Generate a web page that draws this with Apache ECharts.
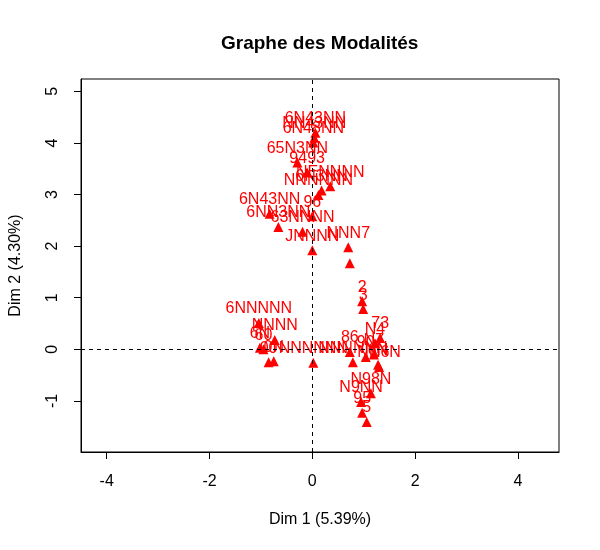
<!DOCTYPE html>
<html>
<head>
<meta charset="utf-8">
<script src="https://cdn.jsdelivr.net/npm/echarts@6/dist/echarts.min.js"></script>
<style>
    html, body { margin: 0; padding: 0; background: #fff; }
    #chart { width: 600px; height: 550px; }
</style>
</head>
<body>
<div id="chart"></div>
<script>
// modalités (labels) et coordonnées sur Dim 1 / Dim 2
var labels = [
    '6N43NN', 'NN43NN', '6N48NN', '65N3NN', '9493', 'NENNNN', 'NNNNNN', '6N3NN',
    '6N43NN', '6NN3NN', '96', '63NNNN', 'JNNNN', 'NNN7', '',
    '2', '3', '73', '86', 'NNNNNN', '90', 'N7', '6N', 'NN6N', 'N4',
    'N98N', 'N9NN', '95', '5',
    '6NNNNN', 'NNNN', '60', '6N', '00', '0N', 'NNNNNN'
]
var dim1 = [
    0.06, 0.04, 0.02, -0.29, -0.10, 0.35, 0.12, 0.18,
    -0.83, -0.66, 0.00, -0.19, 0.00, 0.70, 0.73,
    0.97, 0.99, 1.32, 0.73, 0.79, 1.04, 1.20, 1.28, 1.30, 1.22,
    1.14, 0.95, 0.97, 1.06,
    -1.04, -0.73, -0.95, -1.02, -0.85, -0.75, 0.02
]
var dim2 = [
    4.20, 4.10, 4.01, 3.62, 3.43, 3.16, 2.99, 3.08,
    2.63, 2.37, 2.58, 2.28, 1.92, 1.98, 1.67,
    0.93, 0.78, 0.22, -0.05, -0.25, -0.15, -0.10, -0.30, -0.34, 0.12,
    -0.85, -1.02, -1.23, -1.41,
    0.51, 0.18, 0.00, 0.03, -0.25, -0.23, -0.26
]
var xTicks = [-4, -2, 0, 2, 4]
var yTicks = [-1, 0, 1, 2, 3, 4, 5]

var points = []
for (var i = 0; i < labels.length; i++) {
    points.push([dim1[i], dim2[i], labels[i]])
}

var font = 'Liberation Sans, Arial, sans-serif'

var axisCommon = {
    type: 'value',
    splitLine: {show: false},
    axisLine: {show: true, onZero: false, lineStyle: {color: '#000', width: 1}},
    axisTick: {show: true, inside: false, length: 7, lineStyle: {color: '#000', width: 1}},
    nameLocation: 'middle',
    nameTextStyle: {color: '#000', fontSize: 16, fontFamily: font}
}

var chart = echarts.init(document.getElementById('chart'))

chart.setOption({
    animation: false,
    backgroundColor: '#fff',
    title: {
        text: 'Graphe des Modalités',
        left: 216,
        top: 29,
        textStyle: {color: '#000', fontSize: 19, fontWeight: 'bold', fontFamily: font}
    },
    grid: {
        left: 78,
        right: 41,
        top: 79,
        bottom: 98,
        show: true,
        borderColor: '#000',
        borderWidth: 1
    },
    xAxis: Object.assign({}, axisCommon, {
        min: -4.5,
        max: 4.8,
        name: 'Dim 1 (5.39%)',
        nameGap: 60,
        axisTick: Object.assign({}, axisCommon.axisTick, {customValues: xTicks}),
        axisLabel: {customValues: xTicks, color: '#000', fontSize: 16, fontFamily: font, margin: 22}
    }),
    yAxis: Object.assign({}, axisCommon, {
        min: -1.99,
        max: 5.24,
        name: 'Dim 2 (4.30%)',
        nameGap: 57,
        axisTick: Object.assign({}, axisCommon.axisTick, {customValues: yTicks}),
        axisLabel: {customValues: yTicks, rotate: 90, color: '#000', fontSize: 16, fontFamily: font, margin: 20}
    }),
    series: [
        {
            type: 'scatter',
            symbol: 'triangle',
            symbolSize: 10,
            itemStyle: {color: '#ff0000', opacity: 1},
            data: points,
            label: {
                show: true,
                position: 'top',
                distance: 1,
                color: '#ff0000',
                fontSize: 16,
                fontFamily: font,
                formatter: (p) => p.data[2]
            },
            labelLayout: {hideOverlap: false},
            markLine: {
                silent: true,
                symbol: 'none',
                label: {show: false},
                lineStyle: {color: '#000', type: [4, 4], width: 1, opacity: 1},
                data: [{xAxis: 0}, {yAxis: 0}]
            }
        }
    ]
})
</script>
</body>
</html>
